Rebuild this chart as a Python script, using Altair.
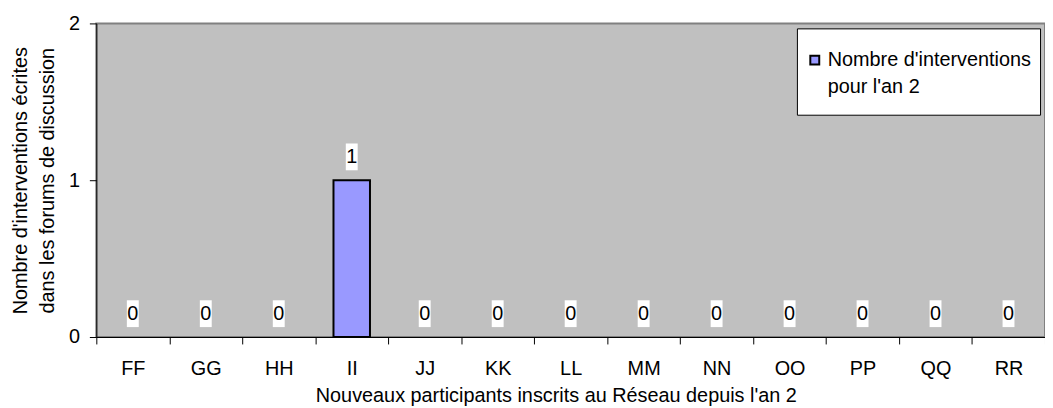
import altair as alt
import pandas as pd

participants = ["FF", "GG", "HH", "II", "JJ", "KK", "LL", "MM", "NN", "OO", "PP", "QQ", "RR"]
interventions = [0, 0, 0, 1, 0, 0, 0, 0, 0, 0, 0, 0, 0]
serie = "Nombre d'interventions pour l'an 2"
y_ticks = [0, 1, 2]
y_title = ["Nombre d'interventions écrites", "dans les forums de discussion"]
x_title = "Nouveaux participants inscrits au Réseau depuis l'an 2"

df = pd.DataFrame({
    "participant": participants,
    "valeur": interventions,
    "serie": [serie] * len(participants),
})

FONT = "Liberation Sans"
FS = 20
W, H = 956, 316

x_enc = alt.X(
    "participant:N", sort=participants,
    scale=alt.Scale(paddingInner=0, paddingOuter=0),
    axis=alt.Axis(
        title=x_title, tickBand="extent", labelAngle=0,
        labelFont=FONT, labelFontSize=FS, labelColor="black", labelPadding=15,
        tickSize=7, tickColor="black", domainColor="black",
        titleFont=FONT, titleFontSize=FS, titleFontWeight="normal", titleColor="black",
        titleBaseline="alphabetic", titleAlign="center", titleX=463, titleY=65.5,
    ),
)
y_enc = alt.Y(
    "valeur:Q",
    scale=alt.Scale(domain=[0, 2], nice=False),
    axis=alt.Axis(
        values=y_ticks, tickCount=10, labelExpr="format(datum.value, 'd')",
        title=y_title, grid=False, labelOverlap=False,
        labelFont=FONT, labelFontSize=FS, labelColor="black", labelPadding=10,
        tickSize=7, tickColor="black", domainColor="black",
        titleFont=FONT, titleFontSize=FS, titleFontWeight="normal", titleColor="black",
        titleAngle=270, titleX=-70.3, titleY=H / 2, titleBaseline="alphabetic",
        titleAlign="center", titleLineHeight=27.5,
    ),
)

bars = alt.Chart(df).mark_bar(width=alt.RelativeBandSize(0.5), stroke="black").encode(
    x=x_enc, y=y_enc,
    fill=alt.Fill(
        "serie:N", scale=alt.Scale(range=["#9999FF"]),
        legend=alt.Legend(
            title=" ", titleOrient="bottom", titleFontSize=7, titlePadding=2.5,
            clipHeight=48,
            orient="none", legendX=706, legendY=5,
            fillColor="white", strokeColor="black", padding=8,
            labelExpr="[slice(datum.label, 0, 22), slice(datum.label, 23)]",
            labelFont=FONT, labelFontSize=FS, labelColor="black", labelLimit=600,
            symbolType="square", symbolSize=81, symbolStrokeColor="black",
            symbolStrokeWidth=2, labelOffset=3,
        ),
    ),
    strokeWidth=alt.condition("datum.valeur > 0", alt.value(2), alt.value(0)),
)

boxes = alt.Chart(df).mark_point(
    shape="M-0.444,-1L0.444,-1L0.444,1L-0.444,1Z", filled=True, fill="white",
    opacity=1, size=729, yOffset=-23.5, strokeWidth=0,
).encode(x=x_enc, y=y_enc)

texts = alt.Chart(df).mark_text(
    font=FONT, fontSize=FS, color="black", baseline="middle", dy=-23.5,
).encode(x=x_enc, y=y_enc, text="valeur:Q")

chart = alt.layer(bars, boxes, texts).properties(
    width=W, height=H,
    autosize=alt.AutoSizeParams(type="none"),
    padding={"left": 89, "top": 14, "right": 0, "bottom": 70},
).configure(
    style={"guide-label": {"lineHeight": 27}},
    view=alt.ViewConfig(fill="#C0C0C0", stroke="#808080", strokeWidth=2),
)

chart.save("out.html", embed_options={"renderer": "svg", "actions": False})
